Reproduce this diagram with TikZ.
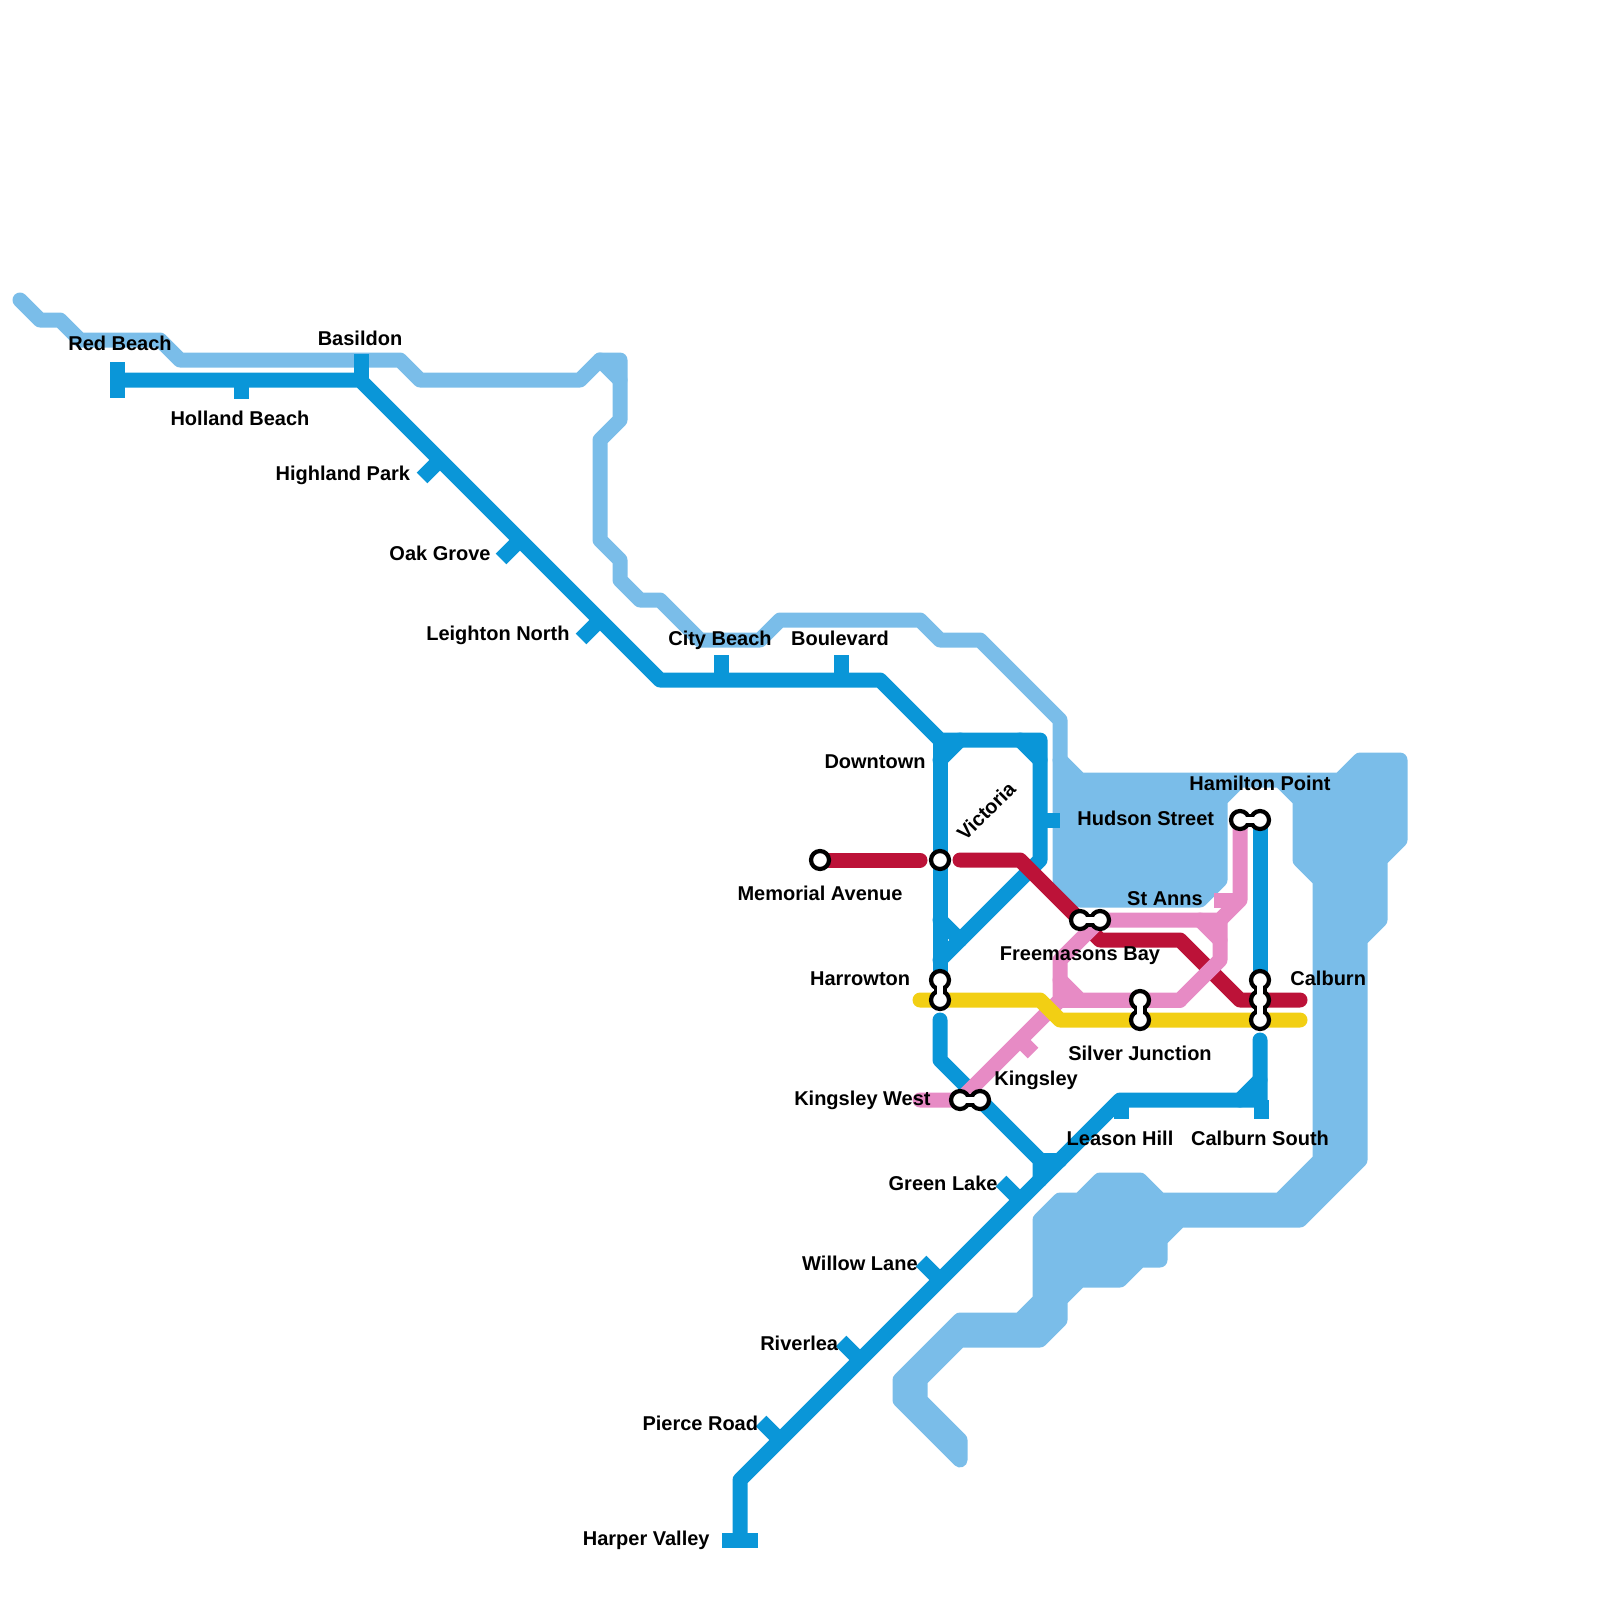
\documentclass[tikz,border=0pt]{standalone}
\usepackage{fontspec}
\setmainfont{Liberation Sans}
\definecolor{water}{HTML}{7ABDE9}
\definecolor{bluel}{HTML}{0A96D8}
\definecolor{redl}{HTML}{BC1238}
\definecolor{pinkl}{HTML}{E78BC5}
\definecolor{yellowl}{HTML}{F2CF14}
\tikzset{
  route/.style={line width=7.5pt,line cap=round,line join=round},
  wat/.style={route,draw=water,fill=water},
  bl/.style={route,draw=bluel},
  rd/.style={route,draw=redl},
  pk/.style={route,draw=pinkl},
  yl/.style={route,draw=yellowl},
  tickb/.style={line width=7.5pt,draw=bluel,line cap=butt},
  tickp/.style={line width=7.5pt,draw=pinkl,line cap=butt},
  stn/.style={circle,draw=black,fill=white,line width=2.1pt,minimum size=9pt,inner sep=0pt},
  linkk/.style={line width=6.5pt,draw=black},
  linkw/.style={line width=2.8pt,draw=white},
  lbl/.style={font=\bfseries\fontsize{10}{12}\selectfont,text=black,inner sep=0pt,text height=7.2pt,text depth=0pt},
  lr/.style={lbl,anchor=east},
  ll/.style={lbl,anchor=west},
}
\begin{document}
\begin{tikzpicture}[x=0.5pt,y=-0.5pt]
\useasboundingbox (0,0) rectangle (1600,1600);
% stations positions
\coordinate (pMem) at (820,860);
\coordinate (pVic) at (940,860);
\coordinate (pHa) at (940,980);
\coordinate (pHb) at (940,1000);
\coordinate (pFa) at (1080,920);
\coordinate (pFb) at (1100,920);
\coordinate (pHama) at (1240,820);
\coordinate (pHamb) at (1260,820);
\coordinate (pSa) at (1140,1000);
\coordinate (pSb) at (1140,1020);
\coordinate (pCa) at (1260,980);
\coordinate (pCb) at (1260,1000);
\coordinate (pCc) at (1260,1020);
\coordinate (pKa) at (960,1100);
\coordinate (pKb) at (980,1100);
% water
\draw[route,draw=water] (20,300) -- (40,320) -- (60,320) -- (80,340) -- (160,340) -- (180,360) -- (400,360) -- (420,380) -- (580,380) -- (600,360) -- (620,360) -- (620,420) -- (600,440) -- (600,540) -- (620,560) -- (620,580) -- (640,600) -- (660,600) -- (700,640) -- (760,640) -- (780,620) -- (920,620) -- (940,640) -- (980,640) -- (1060,720) -- (1060,760);
\draw[route,draw=water] (600,360) -- (620,380);
\draw[wat] (1060,760) -- (1080,780) -- (1340,780) -- (1360,760) -- (1400,760) -- (1400,840) -- (1380,860) -- (1380,920) -- (1360,940) -- (1360,1160) -- (1300,1220) -- (1180,1220) -- (1160,1240) -- (1160,1260) -- (1140,1260) -- (1120,1280) -- (1080,1280) -- (1060,1300) -- (1060,1320) -- (1040,1340) -- (960,1340) -- (920,1380) -- (920,1400) -- (960,1440) -- (960,1460) -- (900,1400) -- (900,1380) -- (960,1320) -- (1020,1320) -- (1040,1300) -- (1040,1220) -- (1060,1200) -- (1080,1200) -- (1100,1180) -- (1140,1180) -- (1160,1200) -- (1280,1200) -- (1320,1160) -- (1320,880) -- (1300,860) -- (1300,800) -- (1280,780) -- (1240,780) -- (1220,800) -- (1220,880) -- (1200,900) -- (1080,900) -- (1060,880) -- cycle;
% blue
\draw[bl] (120,380) -- (360,380) -- (660,680) -- (880,680) -- (940,740) -- (1040,740) -- (1040,860) -- (940,960);
\draw[bl] (940,740) -- (pHa);
\draw[bl] (940,760) -- (960,740);
\draw[bl] (1020,740) -- (1040,760);
\draw[bl] (940,920) -- (960,940);
\draw[bl] (940,1020) -- (940,1060) -- (1040,1160) -- (1040,1180);
\draw[bl] (1040,1160) -- (1060,1160);
\draw[bl] (1260,1040) -- (1260,1100) -- (1120,1100) -- (740,1480) -- (740,1540);
\draw[bl] (1240,1100) -- (1260,1080);
\draw[bl] (pHamb) -- (pCa);
% blue ticks
\draw[tickb] (117.5,362) -- (117.5,398);
\draw[tickb] (241,380) -- (241,399);
\draw[tickb] (361,354) -- (361,380);
\draw[tickb] (440,460) -- (422,478);
\draw[tickb] (520,540) -- (501,559);
\draw[tickb] (600,620) -- (581,639);
\draw[tickb] (721,655) -- (721,680);
\draw[tickb] (841,655) -- (841,680);
\draw[tickb] (1040,820) -- (1060,820);
\draw[tickb] (1121,1100) -- (1121,1119);
\draw[tickb] (1261,1100) -- (1261,1119);
\draw[tickb] (1020,1200) -- (1001,1181);
\draw[tickb] (940,1280) -- (921,1261);
\draw[tickb] (860,1360) -- (841,1341);
\draw[tickb] (780,1440) -- (761,1421);
\draw[tickb] (722,1540) -- (758,1540);
% red
\draw[rd] (pMem) -- (920,860);
\draw[rd] (960,860) -- (1020,860) -- (pFa) -- (1100,940) -- (1180,940) -- (1240,1000) -- (1300,1000);
% pink
\draw[pk] (pHama) -- (1240,900) -- (1220,920) -- (pFb);
\draw[pk] (1220,920) -- (1220,960) -- (1180,1000) -- (1080,1000) -- (1060,980);
\draw[pk] (1200,920) -- (1220,940);
\draw[pk] (1100,920) -- (1060,960) -- (1060,1000) -- (pKa) -- (920,1100);
\draw[pk] (1060,1000) -- (1180,1000);
\draw[tickp] (1214,900) -- (1240,900);
\draw[tickp] (1020,1040) -- (1033,1053);
% yellow
\draw[yl] (920,1000) -- (1040,1000) -- (1060,1020) -- (1300,1020);
% stations
\node[stn] (sMem) at (pMem) {};
\node[stn] (sVic) at (pVic) {};
\foreach \a/\b in {pHa/pHb,pFa/pFb,pHama/pHamb,pSa/pSb,pCa/pCb,pCb/pCc,pKa/pKb}{
  \draw[linkk] (\a) -- (\b);
}
\node[stn] (sHa) at (pHa) {};
\node[stn] (sHb) at (pHb) {};
\node[stn] (sFa) at (pFa) {};
\node[stn] (sFb) at (pFb) {};
\node[stn] (sHama) at (pHama) {};
\node[stn] (sHamb) at (pHamb) {};
\node[stn] (sSa) at (pSa) {};
\node[stn] (sSb) at (pSb) {};
\node[stn] (sCa) at (pCa) {};
\node[stn] (sCb) at (pCb) {};
\node[stn] (sCc) at (pCc) {};
\node[stn] (sKa) at (pKa) {};
\node[stn] (sKb) at (pKb) {};
\foreach \a/\b in {pHa/pHb,pFa/pFb,pHama/pHamb,pSa/pSb,pCa/pCb,pCb/pCc,pKa/pKb}{
  \draw[linkw] (\a) -- (\b);
}
% labels
\node[lbl] (t1) at (120,343) {Red Beach};
\node[lbl] (t2) at (360,338) {Basildon};
\node[lbl] (t3) at (240,418) {Holland Beach};
\node[lr] (t4) at (410.5,473) {Highland Park};
\node[lr] (t5) at (491,553) {Oak Grove};
\node[lr] (t6) at (570,633) {Leighton North};
\node[lbl] (t7) at (720,638) {City Beach};
\node[lbl] (t8) at (840,638) {Boulevard};
\node[lr] (t9) at (926,761) {Downtown};
\node[lbl,rotate=45] (t10) at (986,811) {Victoria};
\node[lbl] (t11) at (820,893) {Memorial Avenue};
\node[lbl] (t12) at (1080,953) {Freemasons Bay};
\node[lbl] (t13) at (1165,898) {St Anns};
\node[lbl] (t14) at (1260,783) {Hamilton Point};
\node[ll] (t15) at (1077,818) {Hudson Street};
\node[lr] (t16) at (910.5,978) {Harrowton};
\node[ll] (t17) at (1290,978) {Calburn};
\node[lbl] (t18) at (1140,1053) {Silver Junction};
\node[ll] (t19) at (994,1078) {Kingsley};
\node[lr] (t20) at (931,1098) {Kingsley West};
\node[lbl] (t21) at (1120,1138) {Leason Hill};
\node[lbl] (t22) at (1260,1138) {Calburn South};
\node[lr] (t23) at (998,1183) {Green Lake};
\node[lr] (t24) at (918,1263) {Willow Lane};
\node[lr] (t25) at (838.5,1343) {Riverlea};
\node[lr] (t26) at (758.5,1423) {Pierce Road};
\node[lr] (t27) at (710,1538) {Harper Valley};
\end{tikzpicture}
\end{document}
